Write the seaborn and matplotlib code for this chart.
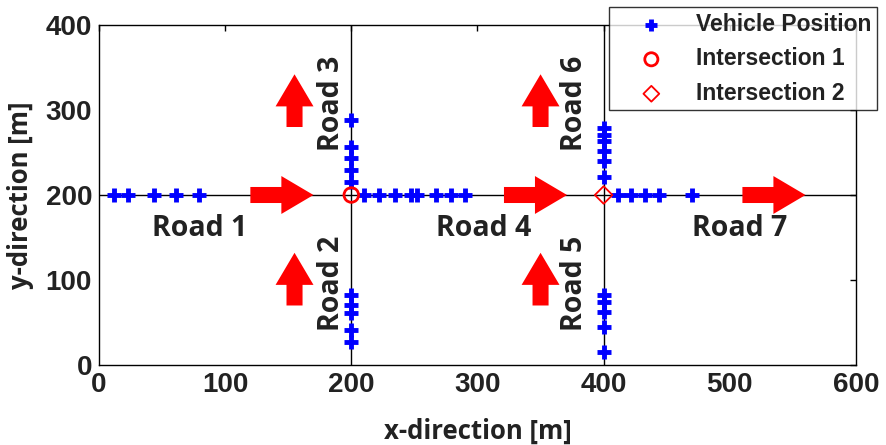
import numpy as np
import pandas as pd
import matplotlib
matplotlib.use("Agg")
import matplotlib.pyplot as plt
import seaborn as sns

sns.set_theme(style="white")
plt.rcParams["font.family"] = ["Liberation Sans", "DejaVu Sans"]

# Vehicle positions along each road [m]
road1_x = [12, 23, 44, 61, 79]
road1_y = [200, 200, 200, 200, 200]
road2_x = [200, 200, 200, 200, 200]
road2_y = [82, 70, 61, 41, 27]
road3_x = [200, 200, 200, 200, 200]
road3_y = [288, 257, 243, 229, 215]
road4_x = [210, 222, 235, 247, 252, 267, 279, 290]
road4_y = [200, 200, 200, 200, 200, 200, 200, 200]
road5_x = [400, 400, 400, 400, 400]
road5_y = [82, 74, 62, 45, 15]
road6_x = [400, 400, 400, 400, 400, 400]
road6_y = [279, 271, 263, 252, 240, 221]
road7_x = [411, 422, 433, 444, 470]
road7_y = [200, 200, 200, 200, 200]

intersection1 = (200, 200)
intersection2 = (400, 200)

# Road name labels: (text, x, y, rotation)
road_labels = [
    ("Road 1", 80, 160, 0),
    ("Road 4", 305, 160, 0),
    ("Road 7", 508, 160, 0),
    ("Road 3", 184, 308, 90),
    ("Road 2", 184, 96, 90),
    ("Road 6", 377, 308, 90),
    ("Road 5", 377, 96, 90),
]

# Traffic direction arrows: (x_start, y_start, x_end, y_end)
arrows = [
    (120, 200, 170, 200),
    (321, 200, 371, 200),
    (510, 200, 560, 200),
    (155, 280, 155, 342),
    (155, 70, 155, 132),
    (350, 280, 350, 342),
    (350, 70, 350, 132),
]

xticks = [0, 100, 200, 300, 400, 500, 600]
yticks = [0, 100, 200, 300, 400]

vehicles = pd.DataFrame({
    "x": road1_x + road2_x + road3_x + road4_x + road5_x + road6_x + road7_x,
    "y": road1_y + road2_y + road3_y + road4_y + road5_y + road6_y + road7_y,
})

fig = plt.figure(figsize=(8.86, 4.45), dpi=100)
ax = fig.add_axes([0.1117, 0.1798, 0.8544, 0.764])

# Road centre lines
ax.axhline(200, color="black", lw=1.0, zorder=1)
ax.axvline(200, color="black", lw=1.0, zorder=1)
ax.axvline(400, color="black", lw=1.0, zorder=1)

sns.scatterplot(data=vehicles, x="x", y="y", marker="+", color="blue",
                s=100, linewidth=3.5, ax=ax, zorder=3, label="Vehicle Position")
sns.scatterplot(x=[intersection1[0]], y=[intersection1[1]], marker="o",
                facecolor="none", edgecolor="red", s=110, linewidth=2.0,
                ax=ax, zorder=4, label="Intersection 1")
sns.scatterplot(x=[intersection2[0]], y=[intersection2[1]], marker="D",
                facecolor="none", edgecolor="red", s=80, linewidth=1.3,
                ax=ax, zorder=4, label="Intersection 2")

for x0, y0, x1, y1 in arrows:
    ax.annotate("", xy=(x1, y1), xytext=(x0, y0),
                arrowprops=dict(arrowstyle="simple,head_length=1.1,head_width=1.3,tail_width=0.55",
                                color="red", lw=0, shrinkA=0, shrinkB=0,
                                mutation_scale=21), zorder=2)

for text, x, y, rot in road_labels:
    ax.text(x, y, text, rotation=rot, ha="center", va="center",
            fontsize=20.5, fontweight="bold", color="#222222",
            family=["Open Sans", "DejaVu Sans"])

ax.set_xlim(0, 600)
ax.set_ylim(0, 400)
ax.set_xticks(xticks)
ax.set_yticks(yticks)
ax.tick_params(axis="both", direction="in", length=4, width=1, top=True, right=True,
               labelsize=20, pad=5, colors="black")
for lab in ax.get_xticklabels() + ax.get_yticklabels():
    lab.set_fontweight("bold")
    lab.set_color("#222222")
ax.set_xlabel("x-direction [m]", fontsize=18.5, fontweight="bold", color="#222222",
              labelpad=14, family=["Open Sans", "DejaVu Sans"])
ax.set_ylabel("y-direction [m]", fontsize=18.5, fontweight="bold", color="#222222",
              labelpad=8, family=["Open Sans", "DejaVu Sans"])
for sp in ax.spines.values():
    sp.set_color("black")
    sp.set_linewidth(1.0)
    sp.set_visible(True)

leg = ax.legend(loc="upper right", bbox_to_anchor=(0.99, 0.984),
                bbox_transform=fig.transFigure, borderaxespad=0,
                fontsize=16.5, frameon=True,
                fancybox=False, edgecolor="black", borderpad=0.25,
                labelspacing=0.5, handlelength=3.2, handletextpad=0.35,
                markerscale=0.9)
leg.get_frame().set_linewidth(1.0)
for t in leg.get_texts():
    t.set_fontweight("bold")
    t.set_color("#222222")

fig.savefig("out.png", dpi=100)
